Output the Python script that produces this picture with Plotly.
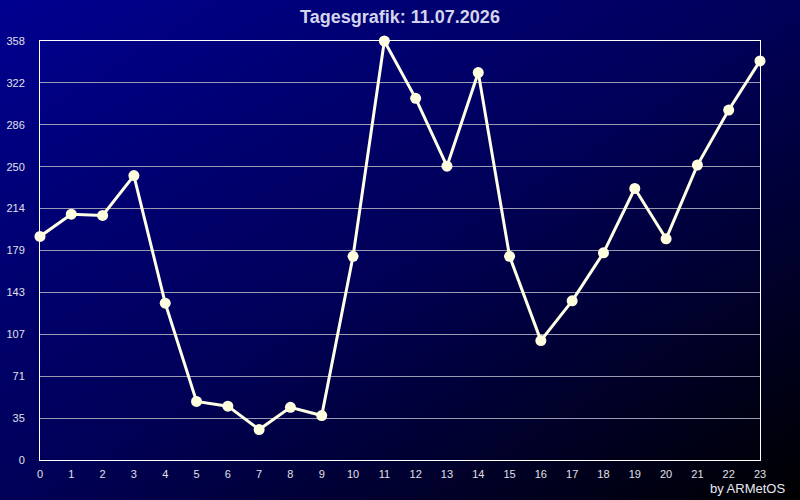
import base64
import plotly.graph_objects as go

# hourly values
hours = list(range(24))
values = [191, 210, 209, 243, 134, 50, 46, 26, 45, 38, 174, 358,
          309, 251, 331, 174, 102, 136, 177, 232, 189, 252, 299, 341]

y_ticks = [0, 35, 71, 107, 143, 179, 214, 250, 286, 322, 358]
y_max = 358
title = "Tagesgrafik: 11.07.2026"
credit = "by ARMetOS"

# background gradient (blue top-left -> black bottom-right) as svg image
svg = ('<svg xmlns="http://www.w3.org/2000/svg" width="800" height="500">'
       '<defs><linearGradient id="g" x1="0" y1="0" x2="1" y2="1">'
       '<stop offset="0" stop-color="#000090"/>'
       '<stop offset="0.5" stop-color="#000058"/>'
       '<stop offset="1" stop-color="#000000"/>'
       '</linearGradient></defs>'
       '<rect width="800" height="500" fill="url(#g)"/></svg>')
bg = "data:image/svg+xml;base64," + base64.b64encode(svg.encode()).decode()

fig = go.Figure()
fig.add_trace(go.Scatter(
    x=hours,
    y=values,
    mode='lines+markers',
    line=dict(color='#FFFFE6', width=3),
    marker=dict(color='#FFFFE0', size=11),
    cliponaxis=False,
    hoverinfo='x+y',
))

fig.update_layout(
    width=800, height=500,
    margin=dict(l=40, r=40, t=41, b=40, autoexpand=False),
    paper_bgcolor='#000040',
    plot_bgcolor='rgba(0,0,0,0)',
    font=dict(family='Liberation Sans, Arial, sans-serif', color='#E0E0E8', size=11),
    title=dict(text=f"<b>{title}</b>", x=0.5, xanchor='center', y=0.966, yanchor='middle',
               font=dict(size=18, color='#D4D4EC')),
    showlegend=False,
    images=[dict(source=bg, xref='paper', yref='paper', x=-0.0556, y=1.098,
                 sizex=1.1112, sizey=1.1933, xanchor='left', yanchor='top',
                 sizing='stretch', layer='below')],
    annotations=[dict(text=credit, xref='paper', yref='paper', x=1.0375, y=-0.067,
                      xanchor='right', yanchor='middle', showarrow=False,
                      font=dict(size=13, color='#E8E8F0'))],
)

fig.update_xaxes(range=[0, 23], tickvals=hours, ticks='', showgrid=False,
                 zeroline=False, showline=True, linecolor='white', linewidth=1,
                 mirror=True, ticklabelstandoff=4, fixedrange=True, automargin=False)
fig.update_yaxes(range=[0, y_max], tickvals=[i * y_max / 10 for i in range(11)],
                 ticktext=[str(t) for t in y_ticks], ticks='',
                 showgrid=True, gridcolor='#9A9AB0', gridwidth=1,
                 zeroline=False, showline=True, linecolor='white', linewidth=1,
                 mirror=True, ticklabelstandoff=12, fixedrange=True, automargin=False)

fig.write_html("out.html", config=dict(displayModeBar=False),
               post_script="document.body.style.margin='0';")
